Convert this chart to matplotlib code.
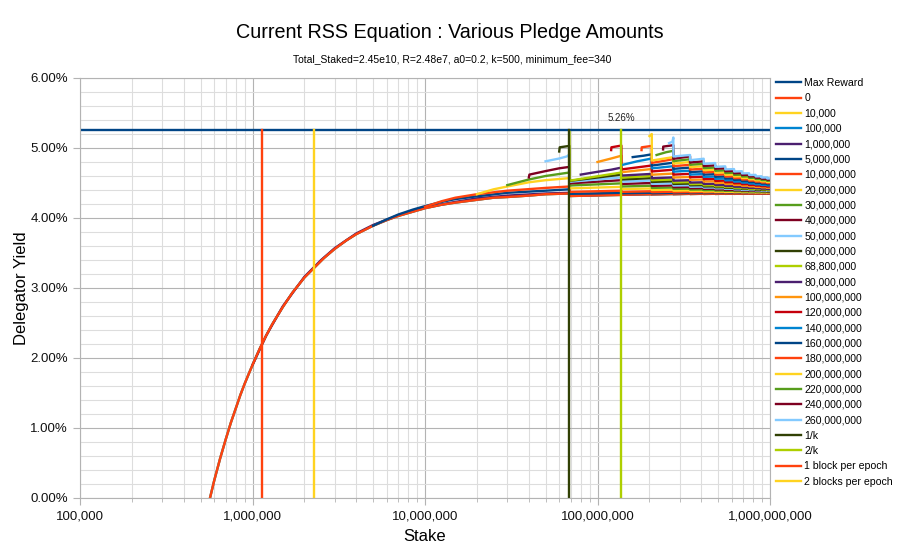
import matplotlib
matplotlib.use("Agg")
import matplotlib.pyplot as plt
from matplotlib.ticker import FuncFormatter, MultipleLocator, LogLocator, NullFormatter

plt.rcParams['font.family'] = ['Liberation Sans', 'DejaVu Sans']

# reference lines (stake in millions of ADA, yield in %)
max_reward = 5.26
one_k_stake = 68.8
two_k_stake = 137.6
one_block_stake = 1.134
two_block_stake = 2.268

# saturation edges (multiples of 1/k) where the pools split
seg_edges = [68.8, 137.6, 206.4, 275.2, 344.0, 412.8, 481.6, 550.4,
             619.2, 688.0, 756.8, 825.6, 894.4, 963.2, 1000.0]

# head = (stake, yield) points up to the first edge, saw = (start, end) yield per later segment
p0_head = [(0.5, -0.58), (0.55, -0.13), (0.567, 0.0), (0.6, 0.25), (0.65, 0.57), (0.7, 0.84),
           (0.75, 1.08), (0.8, 1.28), (0.85, 1.47), (0.9, 1.63), (0.95, 1.77), (1.0, 1.90),
           (1.1, 2.13), (1.2, 2.32), (1.3, 2.48), (1.4, 2.61), (1.5, 2.73), (1.7, 2.93),
           (2.0, 3.15), (2.3, 3.30), (2.6, 3.43), (3.0, 3.56), (3.5, 3.68), (4.0, 3.77),
           (5.0, 3.89), (6.0, 3.97), (7.0, 4.03), (8.5, 4.09), (10.0, 4.14), (12.5, 4.19),
           (15.0, 4.22), (20.0, 4.26), (25.0, 4.29), (30.0, 4.30), (40.0, 4.32), (50.0, 4.34),
           (68.8, 4.35)]
p0_saw = [(4.314, 4.330), (4.332, 4.340), (4.338, 4.343), (4.341, 4.345), (4.343, 4.346),
          (4.344, 4.346), (4.344, 4.347), (4.345, 4.347), (4.345, 4.347), (4.345, 4.348),
          (4.346, 4.348), (4.346, 4.348), (4.346, 4.348), (4.347, 4.348)]

# 10,000 and 100,000 sit on top of the 0 curve
p10k_head = p0_head
p10k_saw = p0_saw
p100k_head = p0_head
p100k_saw = p0_saw

p1m_head = [(1.0, 1.90), (1.2, 2.32), (1.5, 2.74), (2.0, 3.16), (2.5, 3.40), (3.0, 3.57),
            (4.0, 3.78), (5.0, 3.90), (7.0, 4.04), (10.0, 4.15), (15.0, 4.23), (20.0, 4.28),
            (30.0, 4.32), (50.0, 4.35), (68.8, 4.36)]
p1m_saw = [(4.320, 4.336), (4.336, 4.344), (4.341, 4.346), (4.343, 4.347), (4.345, 4.348),
           (4.345, 4.348), (4.346, 4.348), (4.346, 4.348), (4.346, 4.348), (4.347, 4.348),
           (4.347, 4.348), (4.347, 4.348), (4.347, 4.348), (4.347, 4.348)]

p5m_head = [(5.0, 3.89), (6.0, 3.98), (7.0, 4.05), (8.5, 4.12), (10.0, 4.17), (12.5, 4.23),
            (15.0, 4.27), (20.0, 4.31), (30.0, 4.36), (50.0, 4.39), (68.8, 4.41)]
p5m_saw = [(4.345, 4.360), (4.353, 4.360), (4.354, 4.359), (4.355, 4.358), (4.356, 4.358),
           (4.356, 4.358), (4.356, 4.358), (4.356, 4.358), (4.356, 4.358), (4.356, 4.358),
           (4.356, 4.358), (4.356, 4.358), (4.356, 4.358), (4.356, 4.358)]

p10m_head = [(10.0, 4.16), (12.5, 4.24), (15.0, 4.29), (20.0, 4.34), (30.0, 4.39), (50.0, 4.43),
             (68.8, 4.45)]
p10m_saw = [(4.373, 4.390), (4.373, 4.382), (4.370, 4.375), (4.367, 4.371), (4.367, 4.370),
            (4.366, 4.369), (4.366, 4.368), (4.366, 4.368), (4.366, 4.368), (4.366, 4.368),
            (4.366, 4.368), (4.366, 4.368), (4.366, 4.368), (4.366, 4.368)]

p20m_head = [(20.0, 4.34), (25.0, 4.41), (30.0, 4.45), (40.0, 4.51), (50.0, 4.54), (68.8, 4.57)]
p20m_saw = [(4.423, 4.445), (4.413, 4.422), (4.400, 4.405), (4.391, 4.394), (4.385, 4.387),
            (4.380, 4.383), (4.376, 4.378), (4.373, 4.375), (4.371, 4.373), (4.369, 4.371),
            (4.368, 4.369), (4.366, 4.368), (4.365, 4.367), (4.364, 4.366)]

p30m_head = [(30.0, 4.47), (40.0, 4.55), (50.0, 4.60), (68.8, 4.65)]
p30m_saw = [(4.464, 4.495), (4.450, 4.461), (4.430, 4.436), (4.416, 4.419), (4.406, 4.408),
            (4.398, 4.400), (4.392, 4.394), (4.388, 4.390), (4.384, 4.385), (4.381, 4.382),
            (4.379, 4.380), (4.377, 4.378), (4.375, 4.376), (4.373, 4.374)]

p40m_head = [(40.0, 4.58), (40.3, 4.62), (50.0, 4.67), (60.0, 4.71), (68.8, 4.73)]
p40m_saw = [(4.495, 4.540), (4.486, 4.500), (4.459, 4.466), (4.440, 4.444), (4.426, 4.429),
            (4.416, 4.418), (4.408, 4.410), (4.402, 4.403), (4.397, 4.398), (4.393, 4.394),
            (4.390, 4.391), (4.386, 4.387), (4.384, 4.385), (4.381, 4.382)]

p50m_head = [(50.0, 4.81), (60.0, 4.85), (66.5, 4.88), (68.8, 4.91)]
p50m_saw = [(4.517, 4.580), (4.519, 4.536), (4.488, 4.496), (4.464, 4.468), (4.446, 4.449),
            (4.434, 4.436), (4.424, 4.426), (4.416, 4.417), (4.409, 4.410), (4.404, 4.405),
            (4.399, 4.400), (4.395, 4.396), (4.392, 4.393), (4.390, 4.391)]

p60m_head = [(60.0, 4.95), (60.4, 5.01), (68.8, 5.03)]
p60m_saw = [(4.530, 4.620), (4.550, 4.570), (4.515, 4.525), (4.487, 4.492), (4.467, 4.470),
            (4.451, 4.453), (4.439, 4.441), (4.430, 4.431), (4.422, 4.423), (4.416, 4.417),
            (4.410, 4.411), (4.405, 4.406), (4.401, 4.402), (4.398, 4.399)]

p68m_head = [(68.8, 5.23)]
p68m_saw = [(4.533, 4.650), (4.576, 4.600), (4.539, 4.551), (4.508, 4.513), (4.484, 4.488),
            (4.467, 4.470), (4.453, 4.455), (4.442, 4.444), (4.433, 4.434), (4.425, 4.426),
            (4.419, 4.420), (4.414, 4.415), (4.410, 4.411), (4.406, 4.407)]

p80m_head = [(80.0, 4.62), (100.0, 4.66), (120.0, 4.69), (137.6, 4.72)]
p80m_saw = [(4.606, 4.630), (4.568, 4.580), (4.533, 4.540), (4.506, 4.510), (4.486, 4.489),
            (4.470, 4.472), (4.457, 4.459), (4.447, 4.448), (4.438, 4.439), (4.431, 4.432),
            (4.425, 4.426), (4.420, 4.421), (4.415, 4.416)]

p100m_head = [(100.0, 4.80), (120.0, 4.85), (137.6, 4.89)]
p100m_saw = [(4.654, 4.700), (4.618, 4.635), (4.578, 4.586), (4.545, 4.550), (4.520, 4.524),
             (4.500, 4.503), (4.485, 4.487), (4.472, 4.473), (4.461, 4.462), (4.452, 4.453),
             (4.444, 4.445), (4.438, 4.439), (4.432, 4.433)]

p120m_head = [(120.0, 4.97), (120.4, 5.01), (137.6, 5.035)]
p120m_saw = [(4.694, 4.750), (4.665, 4.690), (4.620, 4.631), (4.583, 4.590), (4.554, 4.558),
             (4.530, 4.534), (4.511, 4.514), (4.496, 4.498), (4.483, 4.485), (4.472, 4.473),
             (4.463, 4.464), (4.455, 4.456), (4.449, 4.450)]

p140m_head = [(140.0, 4.76), (170.0, 4.81), (206.4, 4.85)]
p140m_saw = [(4.709, 4.740), (4.662, 4.676), (4.620, 4.628), (4.587, 4.592), (4.560, 4.564),
             (4.538, 4.541), (4.520, 4.523), (4.505, 4.507), (4.492, 4.494), (4.481, 4.482),
             (4.472, 4.473), (4.465, 4.466)]

p160m_head = [(160.0, 4.87), (185.0, 4.89), (206.4, 4.91)]
p160m_saw = [(4.749, 4.790), (4.702, 4.720), (4.656, 4.666), (4.620, 4.626), (4.589, 4.594),
             (4.565, 4.568), (4.545, 4.548), (4.528, 4.530), (4.514, 4.516), (4.501, 4.503),
             (4.491, 4.492), (4.482, 4.483)]

p180m_head = [(180.0, 4.97), (180.4, 5.01), (206.4, 5.03)]
p180m_saw = [(4.787, 4.840), (4.740, 4.760), (4.692, 4.704), (4.652, 4.659), (4.619, 4.624),
             (4.592, 4.596), (4.569, 4.572), (4.550, 4.552), (4.534, 4.536), (4.520, 4.521),
             (4.508, 4.509), (4.499, 4.500)]

p200m_head = [(200.0, 5.17), (206.4, 5.20)]
p200m_saw = [(4.821, 4.870), (4.777, 4.800), (4.727, 4.740), (4.683, 4.690), (4.647, 4.653),
             (4.617, 4.621), (4.593, 4.596), (4.571, 4.573), (4.553, 4.555), (4.538, 4.539),
             (4.525, 4.526), (4.515, 4.516)]

p220m_head = [(220.0, 4.90), (250.0, 4.94), (275.2, 4.96)]
p220m_saw = [(4.812, 4.840), (4.760, 4.775), (4.713, 4.721), (4.675, 4.681), (4.643, 4.647),
             (4.616, 4.619), (4.593, 4.595), (4.573, 4.575), (4.556, 4.557), (4.542, 4.543),
             (4.532, 4.533)]

p240m_head = [(240.0, 4.98), (240.4, 5.02), (275.2, 5.04)]
p240m_saw = [(4.846, 4.880), (4.793, 4.810), (4.743, 4.752), (4.704, 4.710), (4.669, 4.674),
             (4.640, 4.644), (4.615, 4.618), (4.594, 4.596), (4.576, 4.577), (4.561, 4.562),
             (4.548, 4.549)]

p260m_head = [(260.0, 5.07), (272.0, 5.09), (275.2, 5.15)]
p260m_saw = [(4.879, 4.900), (4.826, 4.847), (4.774, 4.785), (4.731, 4.738), (4.694, 4.699),
             (4.664, 4.668), (4.637, 4.640), (4.614, 4.616), (4.594, 4.596), (4.578, 4.579),
             (4.564, 4.565)]

navy, orred, yellow, green = "#004586", "#ff420e", "#ffd320", "#579d1c"
darkred, lblue, olive, lime = "#7e0021", "#83caff", "#314004", "#aecf00"
purple, orange, red, blue = "#4b1f6f", "#ff950e", "#c5000b", "#0084d1"

pledge_series = [
    ("0", orred, p0_head, p0_saw),
    ("10,000", yellow, p10k_head, p10k_saw),
    ("100,000", blue, p100k_head, p100k_saw),
    ("1,000,000", purple, p1m_head, p1m_saw),
    ("5,000,000", navy, p5m_head, p5m_saw),
    ("10,000,000", orred, p10m_head, p10m_saw),
    ("20,000,000", yellow, p20m_head, p20m_saw),
    ("30,000,000", green, p30m_head, p30m_saw),
    ("40,000,000", darkred, p40m_head, p40m_saw),
    ("50,000,000", lblue, p50m_head, p50m_saw),
    ("60,000,000", olive, p60m_head, p60m_saw),
    ("68,800,000", lime, p68m_head, p68m_saw),
    ("80,000,000", purple, p80m_head, p80m_saw),
    ("100,000,000", orange, p100m_head, p100m_saw),
    ("120,000,000", red, p120m_head, p120m_saw),
    ("140,000,000", blue, p140m_head, p140m_saw),
    ("160,000,000", navy, p160m_head, p160m_saw),
    ("180,000,000", orred, p180m_head, p180m_saw),
    ("200,000,000", yellow, p200m_head, p200m_saw),
    ("220,000,000", green, p220m_head, p220m_saw),
    ("240,000,000", darkred, p240m_head, p240m_saw),
    ("260,000,000", lblue, p260m_head, p260m_saw),
]

vertical_series = [
    ("1/k", olive, one_k_stake),
    ("2/k", lime, two_k_stake),
    ("1 block per epoch", orred, one_block_stake),
    ("2 blocks per epoch", yellow, two_block_stake),
]


def build(head, saw):
    xs = [s * 1e6 for s, _ in head]
    ys = [y for _, y in head]
    k = seg_edges.index(head[-1][0])
    for j, (a, b) in enumerate(saw):
        xs += [seg_edges[k + j] * 1e6, seg_edges[k + j + 1] * 1e6]
        ys += [a, b]
    return xs, ys


fig = plt.figure(figsize=(9, 5.56), dpi=100)
ax = fig.add_axes([80 / 900, 1 - 498 / 556, 690 / 900, 420 / 556])
lw = 1.7

handles = []
h, = ax.plot([1e5, 1e9], [max_reward, max_reward], color=navy, lw=lw, label="Max Reward")
handles.append(h)
ax.annotate(f"{max_reward:.2f}%", (two_k_stake * 1e6, max_reward), xytext=(0, 5),
            textcoords="offset points", ha="center", va="bottom", fontsize=7, color="#222222")

# the 0 curve sits above the tiny pledges it hides
draw_order = [1, 2, 3, 0] + list(range(4, len(pledge_series)))
lines = {}
for i in draw_order:
    label, color, head, saw = pledge_series[i]
    xs, ys = build(head, saw)
    lines[i], = ax.plot(xs, ys, color=color, lw=lw, label=label)
handles += [lines[i] for i in range(len(pledge_series))]

for label, color, stake in vertical_series:
    h, = ax.plot([stake * 1e6, stake * 1e6], [0, max_reward], color=color, lw=lw, label=label)
    handles.append(h)

ax.set_xscale("log")
ax.set_xlim(1e5, 1e9)
ax.set_ylim(0, 6)
ax.xaxis.set_major_locator(LogLocator(base=10, numticks=10))
ax.xaxis.set_minor_locator(LogLocator(base=10, subs=range(2, 10), numticks=50))
ax.xaxis.set_minor_formatter(NullFormatter())
ax.xaxis.set_major_formatter(FuncFormatter(lambda v, p: f"{int(round(v)):,}"))
ax.yaxis.set_major_locator(MultipleLocator(1))
ax.yaxis.set_minor_locator(MultipleLocator(0.2))
ax.yaxis.set_major_formatter(FuncFormatter(lambda v, p: f"{v:.2f}%"))

ax.grid(which="major", color="#b3b3b3", lw=0.8)
ax.grid(which="minor", color="#dddddd", lw=0.8)
ax.set_axisbelow(True)
for side in ["left", "bottom", "top", "right"]:
    ax.spines[side].set_color("#b3b3b3")
ax.tick_params(axis="both", which="major", labelsize=9.5, color="#b3b3b3", length=5,
               labelcolor="#111111")
ax.tick_params(axis="y", which="minor", length=0)
ax.tick_params(axis="x", which="minor", length=3, color="#b3b3b3")
ax.tick_params(axis="x", which="major", pad=4)

ax.set_xlabel("Stake", fontsize=12, labelpad=5)
ax.set_ylabel("Delegator Yield", fontsize=12, labelpad=1)

fig.text(0.5, 1 - 32 / 556, "Current RSS Equation : Various Pledge Amounts", ha="center",
         va="center", fontsize=14.2)
fig.text(0.502, 1 - 59 / 556, "Total_Staked=2.45e10, R=2.48e7, a0=0.2, k=500, minimum_fee=340",
         ha="center", va="center", fontsize=7.5)

fig.legend(handles=handles, loc="upper left", bbox_to_anchor=(776 / 900, 1 - 78 / 556),
           frameon=False, fontsize=7.6, handlelength=2.4, handletextpad=0.3,
           labelspacing=0.505, borderaxespad=0, borderpad=0)

fig.savefig("out.png", dpi=100)
